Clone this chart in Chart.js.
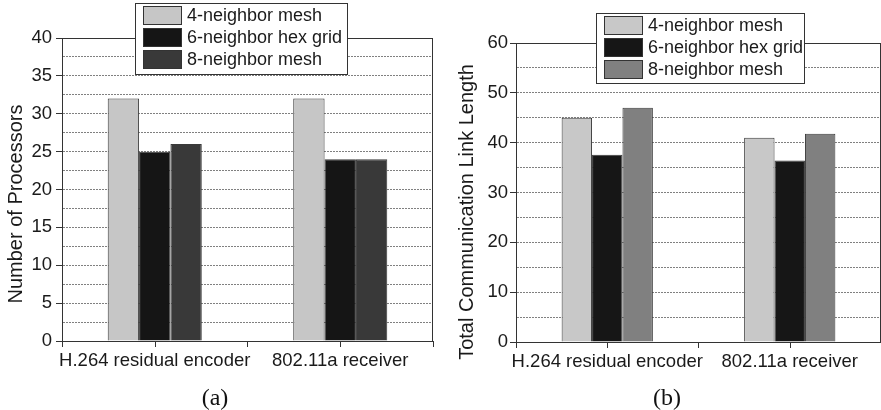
<!DOCTYPE html>
<html>
<head>
<meta charset="utf-8">
<script src="https://cdn.jsdelivr.net/npm/chart.js@4.4.1/dist/chart.umd.min.js"></script>
<style>
  body { margin: 0; background: #fff; width: 881px; height: 410px; position: relative; overflow: hidden; }
  canvas { position: absolute; top: 0; }
  #chartA { left: 0; }
  #chartB { left: 440px; }
  .cap { position: absolute; top: 383px; font: 24px "Liberation Serif", serif; line-height: 28px; color: #111; transform: translateX(-50%); }
</style>
</head>
<body>
<canvas id="chartA" width="440" height="410"></canvas>
<canvas id="chartB" width="441" height="410"></canvas>
<div class="cap" style="left:215px">(a)</div>
<div class="cap" style="left:667px">(b)</div>
<script>
// donnees
const categories = ['H.264 residual encoder', '802.11a receiver'];
const seriesNames = ['4-neighbor mesh', '6-neighbor hex grid', '8-neighbor mesh'];

const procMesh4 = [32, 32];
const procHex6 = [25, 24];
const procMesh8 = [26, 24];

const linkMesh4 = [45, 41];
const linkHex6 = [37.6, 36.4];
const linkMesh8 = [47, 41.8];

const procAxis = { max: 40, step: 2.5, labelEvery: 5 };
const linkAxis = { max: 60, step: 5, labelEvery: 10 };

const sans = '"Liberation Sans", Arial, sans-serif';
const ink = '#1a1a1a';

// cadre, petits traits de l'axe x, legende et titre de l'axe y
function decor(o) {
  return {
    id: 'decor',
    beforeDatasetsDraw(chart) {
      const { ctx, chartArea: a } = chart;
      ctx.save();
      ctx.strokeStyle = '#333';
      ctx.lineWidth = 1;
      ctx.beginPath();
      ctx.moveTo(a.left, a.top + 0.5);
      ctx.lineTo(a.right, a.top + 0.5);
      ctx.moveTo(a.right - 0.5, a.top);
      ctx.lineTo(a.right - 0.5, a.bottom);
      const xs = chart.scales.x;
      categories.forEach((c, i) => {
        const px = Math.round(xs.getPixelForValue(i)) + 0.5;
        ctx.moveTo(px, a.bottom);
        ctx.lineTo(px, a.bottom + 6);
      });
      ctx.stroke();
      ctx.restore();
    },
    afterDraw(chart) {
      const ctx = chart.ctx;
      const L = o.legend;
      ctx.save();
      // legende
      ctx.fillStyle = '#fff';
      ctx.fillRect(L.x, L.y, L.w, L.h);
      ctx.strokeStyle = '#333';
      ctx.lineWidth = 1;
      ctx.strokeRect(L.x + 0.5, L.y + 0.5, L.w, L.h);
      ctx.font = '18px ' + sans;
      ctx.textBaseline = 'middle';
      ctx.textAlign = 'left';
      seriesNames.forEach((name, i) => {
        const sy = L.y + 3 + i * 22;
        ctx.fillStyle = o.colors[i];
        ctx.fillRect(L.x + 8, sy, 39, 19);
        ctx.strokeStyle = '#333';
        ctx.strokeRect(L.x + 8.5, sy + 0.5, 38, 18);
        ctx.fillStyle = ink;
        ctx.fillText(name, L.x + 52, sy + 10);
      });
      // titre y
      ctx.translate(o.titleX, o.titleY);
      ctx.rotate(-Math.PI / 2);
      ctx.font = '20px ' + sans;
      ctx.textAlign = 'center';
      ctx.fillStyle = ink;
      ctx.fillText(o.title, 0, 0);
      ctx.restore();
    }
  };
}

function makeChart(id, values, colors, axis, o) {
  return new Chart(document.getElementById(id), {
    type: 'bar',
    data: {
      labels: categories,
      datasets: seriesNames.map((name, i) => ({
        label: name,
        data: values[i],
        backgroundColor: colors[i],
        borderColor: '#3a3a3a',
        borderWidth: 1,
        barPercentage: 1,
        categoryPercentage: o.catPct
      }))
    },
    options: {
      responsive: false,
      animation: false,
      devicePixelRatio: 1,
      layout: { padding: { left: 0, top: o.top, right: o.right, bottom: 0 } },
      plugins: { legend: { display: false }, tooltip: { enabled: false } },
      scales: {
        x: {
          afterFit: s => { s.height = o.xHeight; s.paddingLeft = 0; s.paddingRight = 0; },
          grid: { display: true, drawOnChartArea: false, tickLength: 6, color: '#333' },
          border: { display: true, color: '#333', width: 1 },
          ticks: { color: ink, padding: 3, maxRotation: 0, minRotation: 0, autoSkip: false, font: { family: sans, size: 18.5 } }
        },
        y: {
          min: 0,
          max: axis.max,
          afterFit: s => { s.width = o.yWidth; },
          grid: {
            color: '#808080',
            tickColor: ctx => (ctx.tick && ctx.tick.value % axis.labelEvery === 0 ? '#333' : 'rgba(0,0,0,0)'),
            tickLength: 6,
            lineWidth: 1
          },
          border: { display: true, color: '#333', width: 1, dash: [2, 1] },
          ticks: {
            stepSize: axis.step,
            autoSkip: false,
            padding: o.tickPad,
            color: ink,
            font: { family: sans, size: 18.5 },
            callback: v => (v % axis.labelEvery === 0 ? v : '')
          }
        }
      }
    },
    plugins: [decor(Object.assign({ colors }, o))]
  });
}

const colorsA = ['#c6c6c6', '#151515', '#393939'];
const colorsB = ['#c8c8c8', '#161616', '#808080'];

makeChart('chartA', [procMesh4, procHex6, procMesh8], colorsA, procAxis, {
  top: 38, right: 7, xHeight: 69, yWidth: 62, tickPad: 4, catPct: 0.507,
  legend: { x: 135, y: 3, w: 212, h: 71 },
  title: 'Number of Processors', titleX: 16, titleY: 204
});

makeChart('chartB', [linkMesh4, linkHex6, linkMesh8], colorsB, linkAxis, {
  top: 43, right: 0, xHeight: 68, yWidth: 76, tickPad: 2, catPct: 0.5,
  legend: { x: 156, y: 13, w: 208, h: 70 },
  title: 'Total Communication Link Length', titleX: 27, titleY: 212
});
</script>
</body>
</html>
